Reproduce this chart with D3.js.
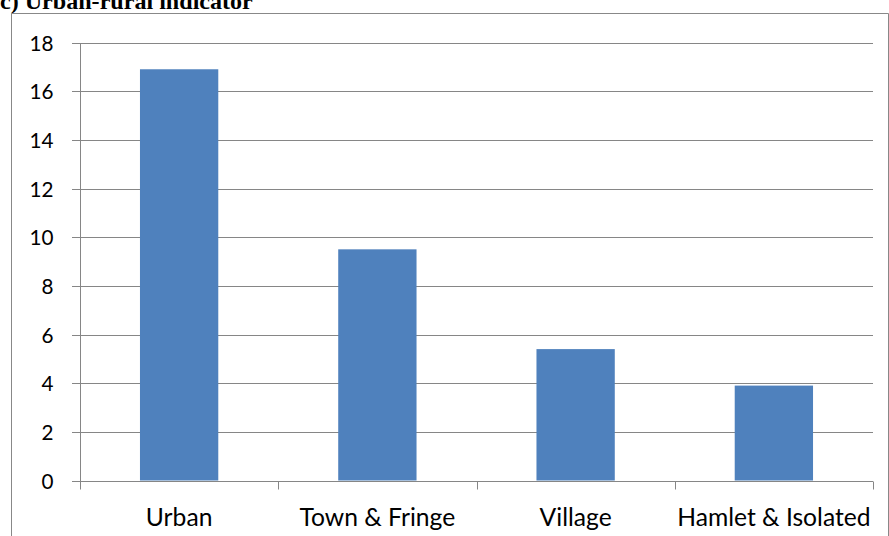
<!DOCTYPE html>
<html><head><meta charset="utf-8">
<script src="https://cdn.jsdelivr.net/npm/d3@7"></script>
<style>body{margin:0;background:#fff}svg{display:block}</style>
</head><body>
<script>
const categories = ["Urban", "Town & Fringe", "Village", "Hamlet & Isolated"];
const values = [16.9, 9.5, 5.4, 3.9];
const yTicks = [0, 2, 4, 6, 8, 10, 12, 14, 16, 18];
const title = "c) Urban-rural indicator";

const W = 889, H = 536;
const svg = d3.select("body").append("svg").attr("width", W).attr("height", H);
const m = {left: 80, right: 873, top: 42.5, bottom: 480.5};
const font = "Lato, 'Open Sans', sans-serif";

// measure helper to fit font size to a target width
function fitSize(txt, family, weight, target) {
  const t = svg.append("text").attr("font-family", family).attr("font-weight", weight)
    .attr("font-size", 100).text(txt);
  const w = t.node().getComputedTextLength();
  t.remove();
  return 100 * target / w;
}
const labelSize = (fitSize("Town & Fringe", font, "normal", 157) + fitSize("Hamlet & Isolated", font, "normal", 192)) / 2;
const tickSize = fitSize("18", font, "normal", 24);
const titleFont = "'Liberation Serif', 'Times New Roman', serif";
const titleSize = fitSize(title, titleFont, "bold", 253);

svg.append("text").attr("x", 0).attr("y", 9)
  .attr("font-family", titleFont)
  .attr("font-weight", "bold").attr("font-size", titleSize).attr("fill", "#000").text(title);

svg.append("path").attr("d", `M11.5,${H}V13.5H888.5V${H}`)
  .attr("fill", "none").attr("stroke", "#888").attr("stroke-width", 1);

const x = d3.scaleBand().domain(categories).range([m.left, m.right]).paddingInner(0.605).paddingOuter(0.3025);
const xb = d3.scaleBand().domain(categories).range([m.left, m.right]);
const y = d3.scaleLinear().domain([0, 18]).range([m.bottom, m.top]);

// gridlines
svg.append("g").selectAll("line").data(yTicks.filter(d => d > 0)).join("line")
  .attr("x1", m.left - 8).attr("x2", m.right)
  .attr("y1", d => Math.round(y(d)) + 0.5).attr("y2", d => Math.round(y(d)) + 0.5)
  .attr("stroke", "#868686").attr("stroke-width", 1);

// bars
svg.append("g").selectAll("rect").data(values).join("rect")
  .attr("x", (d, i) => x(categories[i])).attr("width", x.bandwidth())
  .attr("y", d => y(d)).attr("height", d => y(0) - y(d))
  .attr("fill", "#4F81BD");

// y axis
const yAxis = svg.append("g").attr("transform", `translate(${m.left + 0.5},0)`)
  .call(d3.axisLeft(y).tickValues(yTicks).tickSize(8).tickPadding(19).tickFormat(d3.format("d")));
yAxis.select(".domain").attr("stroke", "#868686").attr("d", `M0,${Math.round(y(0))+0.5}V${Math.round(y(18))+0.5}`);
yAxis.selectAll(".tick line").attr("stroke", "#868686");
yAxis.selectAll(".tick").attr("transform", d => `translate(0,${Math.round(y(d)) + 0.5})`);
yAxis.selectAll("text").attr("font-family", font).attr("font-size", tickSize).attr("fill", "#000")
  .attr("dy", "0.35em");

// x axis
const xAxisG = svg.append("g").attr("transform", `translate(0,${Math.round(y(0)) + 0.5})`);
xAxisG.append("line").attr("x1", m.left - 8).attr("x2", m.right).attr("stroke", "#868686");
const bounds = categories.map(c => xb(c)).concat([m.right]);
xAxisG.selectAll(".tk").data(bounds).join("line").attr("class", "tk")
  .attr("x1", d => Math.round(d) + 0.5).attr("x2", d => Math.round(d) + 0.5)
  .attr("y1", 0).attr("y2", 8).attr("stroke", "#868686");
xAxisG.selectAll("text").data(categories).join("text")
  .attr("x", d => xb(d) + xb.bandwidth() / 2).attr("y", 44)
  .attr("text-anchor", "middle").attr("font-family", font).attr("font-size", labelSize)
  .attr("fill", "#000").text(d => d);
</script>
</body></html>
